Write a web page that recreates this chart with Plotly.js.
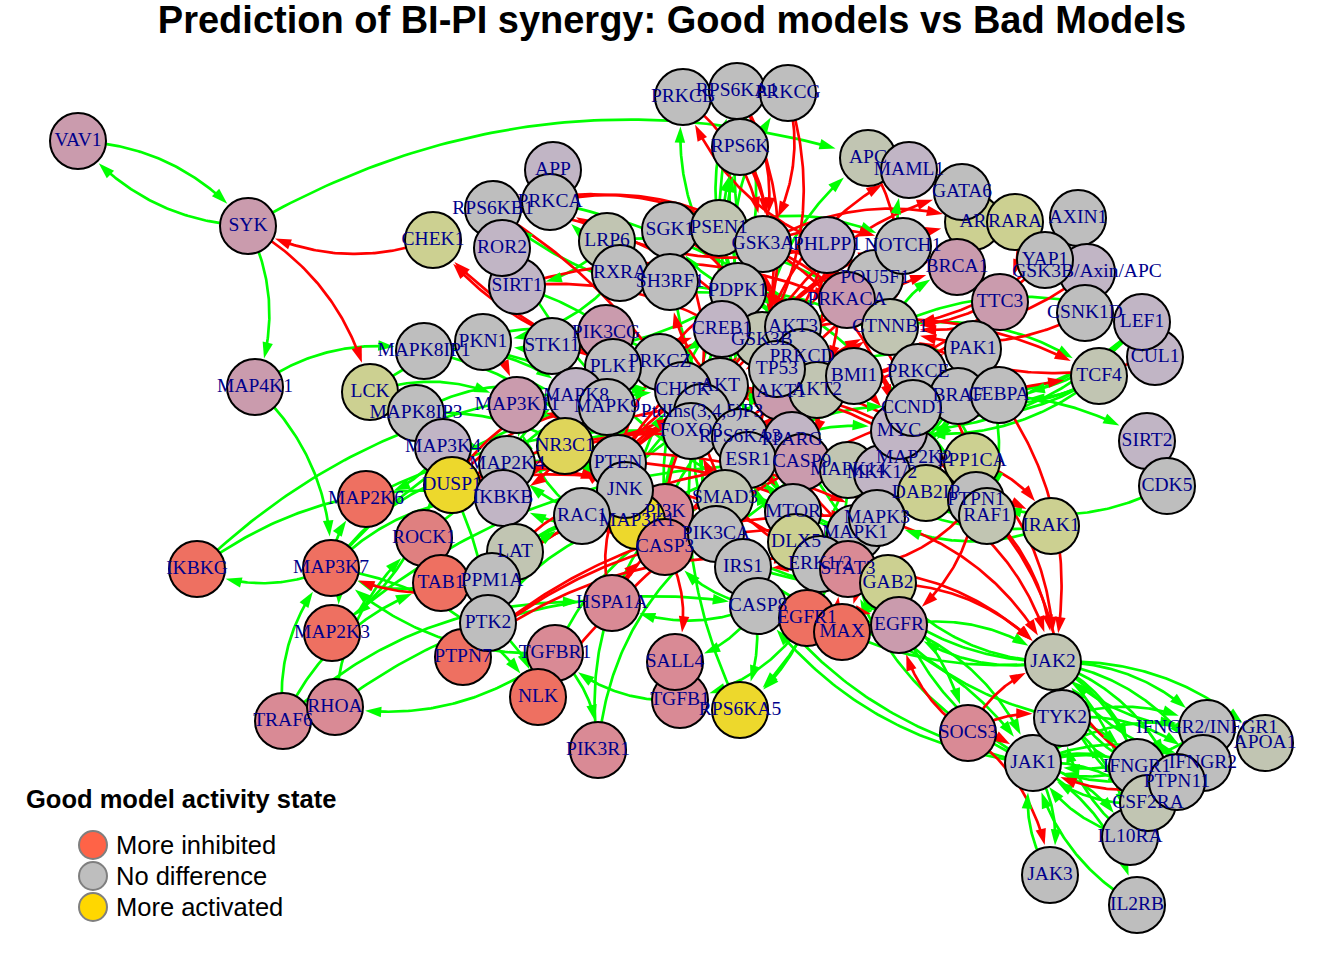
<!DOCTYPE html>
<html>
<head>
<meta charset="utf-8">
<script src="https://cdn.plot.ly/plotly-3.0.1.min.js"></script>
<style>html,body{margin:0;padding:0;background:#fff}#chart{width:1344px;height:960px}</style>
</head>
<body>
<div id="chart"></div>
<script>
// ---------------- DATA ----------------
const nodeNames = ["VAV1","SYK","MAP4K1","LCK","IKBKG","MAP2K6","MAP3K7","MAP2K3","TRAF6","RHOA",
"CHEK1","APP","RPS6KB1","PRKCA","SIRT1","ROR2","LRP6","RXRA","SGK1","PSEN1",
"SH3RF1","PRKCB","RPS6KA1","PRKCG","RPS6K","GSK3A","PHLPP1","APC","MAML1","AR",
"GATA6","RARA","AXIN1","GSK3B/Axin/APC","YAP1","CUL1","CSNK1D","LEF1","TCF4","POU5F1",
"NOTCH1","BRCA1","TTC3","PRKACA","PDPK1","PKN1","MAPK8IP1","STK11","PIK3CG","GSK3B",
"CREB1","AKT3","PRKCD","AKT1","AKT2","TP53","CTNNB1","BMI1","PAK1","PRKCE",
"BRAF","CEBPA","SIRT2","CDK5","MAPK8IP3","PRKCZ","PLK1","AKT","CHUK","PtdIns(3,4,5)P3",
"FOXO3","MAPK8","MAP3K11","MAPK9","MAP3K4","DUSP1","NR3C1","MAP2K4","IKBKB","PTEN",
"PI3K","MAP3K1","JNK","CASP3","RAC1","RPS6KA3","PPARG","ESR1","CASP9","MAPK14",
"MAP2K2","MKK1/2","MYC","CCND1","PPP1CA","DAB2IP","PTPN1","RAF1","IRAK1","SMAD3",
"PIK3CA","MTOR","DLX5","MAPK1","MAPK3","ERK1/2","STAT3","GAB2","IRS1","CASP8",
"EGFR1","EGFR","MAX","ROCK1","LAT","TAB1","PPM1A","PTPN7","PTK2","HSPA1A",
"TGFBR1","NLK","PIK3R1","TGFB1","SALL4","RPS6KA5","SOCS3","JAK2","JAK1","TYK2",
"JAK3","IL2RB","IL10RA","IFNGR1","CSF2RA","IFNGR2/INFGR1","IFNGR2","APOA1","PTPN11"];

// layout coordinates of the network (pixel space of the original figure)
const nodeX = [78,248,255,370,197,366,331,332,283,335,
433,553,493,550,517,502,607,620,670,719,
670,683,737,788,740,763,827,868,909,973,
962,1015,1078,1087,1045,1155,1085,1142,1099,875,
903,957,1000,847,738,483,424,552,606,762,
722,793,802,781,817,777,890,854,973,918,
958,999,1147,1167,416,660,613,720,683,702,
691,576,517,607,443,452,565,507,503,618,
665,637,625,665,582,740,792,748,802,848,
914,882,899,913,972,926,976,987,1051,725,
716,793,796,855,877,820,848,888,743,758,
807,899,842,424,515,441,492,463,488,612,
555,538,598,680,675,740,968,1053,1033,1062,
1050,1137,1130,1137,1148,1207,1203,1265,1177];
const nodeY = [141,226,387,392,569,499,568,633,721,707,
240,170,209,202,286,248,241,273,230,228,
282,97,91,93,147,244,245,158,170,222,
192,222,218,272,260,357,313,322,376,278,
246,267,302,300,291,342,351,346,333,340,
329,327,357,392,390,369,327,376,349,372,
396,395,441,486,413,362,367,386,390,412,
431,396,405,407,447,485,446,464,498,463,
512,521,490,547,516,437,440,460,462,470,
458,473,431,408,461,493,500,516,526,498,
534,512,542,533,518,564,569,583,567,606,
618,625,632,538,552,583,581,657,623,603,
653,697,750,700,662,710,733,662,763,718,
875,905,837,767,803,728,763,743,782];

// activity class of each node in good vs bad models
const nodeState = ["p","p","p","yg","r","r","r","r","pr","pr",
"yg","gp","g","g","gp","gp","gg","g","g","gg",
"g","g","g","g","g","g","gp","gg","gp","yg",
"g","yg","g","gp","g","gp","g","gp","gg","g",
"g","p","p","p","g","g","g","g","p","gg",
"gp","g","g","p","gg","g","gg","g","g","g",
"g","g","gp","g","g","g","g","g","g","g",
"g","gp","p","g","gp","y","y2","g","gp","g",
"pr","y","g","rr","g","g","gp","g","p","gg",
"g","gp","gp","g","yg","yg","g","gg","yg","gg",
"g","g","yg","g","g","g","pr","yg","g","g",
"r","p","r","rr","gg","r","g","r","g","pr",
"pr","r","pr","pr","pr","y","pr","gg","g","g",
"g","g","g","g","gg","g","g","gg","g"];

// activating interactions (source -> target)
const activationEdges = [
["VAV1","SYK"],["SYK","VAV1"],["SYK","MAP4K1"],["SYK","APC"],["MAP4K1","MAP3K7"],["MAP4K1","MAPK8IP1"],
["MAP3K7","IKBKG"],["IKBKG","IKBKB"],["IKBKG","CHUK"],["MAP3K7","MAP2K6"],["MAP3K7","MAP2K3"],["MAP3K7","MAP2K4"],
["MAP3K7","IKBKB"],["MAP3K7","NLK"],["MAP3K7","CHUK"],["TAB1","MAP3K7"],["TRAF6","MAP3K7"],["TRAF6","TAB1"],
["MAP3K4","MAP2K6"],["MAP3K4","MAP2K3"],["MAP3K4","MAP2K4"],["MAP2K6","MAPK14"],["MAP2K3","MAPK14"],
["RHOA","ROCK1"],["RHOA","CASP8"],["TRAF6","HSPA1A"],["LCK","LAT"],["LCK","PIK3CG"],["LCK","MAP3K11"],["LCK","PTK2"],
["LAT","PI3K"],["LAT","PIK3CA"],["LAT","MAP3K1"],["PTK2","NLK"],["PTK2","PI3K"],["PTK2","RAC1"],["ROCK1","PTEN"],
["MAPK8IP1","MAPK8"],["MAPK8IP1","MAPK9"],["MAPK8IP1","JNK"],["MAPK8IP3","JNK"],["MAPK8IP3","MAPK8"],
["MAP3K11","MAP2K4"],["MAP3K1","MAP2K4"],["MAP2K4","JNK"],["MAP2K4","MAPK8"],["MAP2K4","MAPK9"],["MAP2K4","MAPK14"],
["RAC1","MAP3K11"],["RAC1","PAK1"],["RAC1","MAP3K1"],["MAP3K1","MKK1/2"],["MAP3K1","CHUK"],["MAP3K1","IKBKB"],
["PDPK1","PKN1"],["PDPK1","AKT"],["PDPK1","AKT1"],["PDPK1","AKT2"],["PDPK1","AKT3"],["PDPK1","SGK1"],["PDPK1","RPS6K"],
["PDPK1","PRKCZ"],["PDPK1","PRKCD"],["PDPK1","PRKCA"],["PDPK1","PRKCB"],["PDPK1","PRKCG"],["PDPK1","PRKCE"],
["PDPK1","RPS6KA1"],["PDPK1","RPS6KB1"],["PDPK1","RPS6KA3"],["MTOR","RPS6K"],["MTOR","RPS6KB1"],["MTOR","SGK1"],["MTOR","AKT"],
["PtdIns(3,4,5)P3","AKT"],["PtdIns(3,4,5)P3","PDPK1"],["PtdIns(3,4,5)P3","AKT1"],["PtdIns(3,4,5)P3","AKT2"],["PtdIns(3,4,5)P3","AKT3"],
["PIK3CA","PtdIns(3,4,5)P3"],["PIK3CG","PtdIns(3,4,5)P3"],["PI3K","PtdIns(3,4,5)P3"],["PIK3R1","PIK3CA"],["PIK3R1","PI3K"],
["IRS1","PI3K"],["IRS1","PIK3CA"],["GAB2","PI3K"],["GAB2","PIK3CA"],["EGFR","GAB2"],["EGFR","STAT3"],["EGFR1","STAT3"],["EGFR","PIK3CA"],
["AKT","MTOR"],["AKT1","MTOR"],["AKT","CHUK"],["RPS6KA5","CREB1"],["RPS6KA3","CREB1"],["PRKACA","CREB1"],["RPS6KA1","CREB1"],
["MAPK14","RPS6KA5"],["ERK1/2","RPS6KA5"],["ERK1/2","RPS6KA1"],["ERK1/2","RPS6KA3"],["MAPK1","RPS6KA1"],["MAPK3","RPS6KA1"],
["MAPK1","RPS6KA3"],["ERK1/2","MYC"],["MAPK1","MYC"],["MAPK3","MYC"],["ERK1/2","ESR1"],["MAPK1","ESR1"],["MAPK14","TP53"],["JNK","TP53"],
["MKK1/2","ERK1/2"],["MKK1/2","MAPK1"],["MKK1/2","MAPK3"],["MAP2K2","MAPK1"],["MAP2K2","MAPK3"],["MAP2K2","ERK1/2"],
["BRAF","MKK1/2"],["BRAF","MAP2K2"],["RAF1","MKK1/2"],["RAF1","MAP2K2"],["PAK1","RAF1"],["PAK1","MKK1/2"],["PRKCE","RAF1"],["PRKCA","RAF1"],
["CASP8","CASP3"],["CASP9","CASP3"],["CASP8","HSPA1A"],["CASP8","SALL4"],["EGFR1","TGFB1"],["TGFB1","TGFBR1"],["TGFBR1","SMAD3"],
["TGFBR1","PIK3R1"],["TGFBR1","MAP3K7"],["TGFBR1","RHOA"],["IRS1","RPS6KA5"],
["CTNNB1","TCF4"],["CTNNB1","LEF1"],["CTNNB1","MYC"],["CTNNB1","CCND1"],["TCF4","MYC"],["TCF4","CCND1"],["LEF1","MYC"],["LEF1","CCND1"],
["TCF4","CEBPA"],["LEF1","BRAF"],["LEF1","CEBPA"],["TCF4","BRAF"],["CCND1","SIRT2"],["CDK5","PTPN1"],["IRAK1","MAPK3"],["IRAK1","MAPK14"],
["CTNNB1","BRCA1"],["CTNNB1","POU5F1"],["LRP6","CTNNB1"],["NOTCH1","MAML1"],["GSK3B","APC"],["SIRT1","FOXO3"],["RXRA","PKN1"],
["LRP6","SIRT1"],["PSEN1","NOTCH1"],["PIK3CA","AKT"],["PI3K","AKT"],["PI3K","AKT1"],["PIK3CA","PDPK1"],["PI3K","PDPK1"],
["ESR1","CCND1"],["ESR1","MYC"],
["JAK2","IFNGR2/INFGR1"],["IFNGR2/INFGR1","JAK2"],["JAK2","IFNGR2"],["IFNGR2","JAK2"],["JAK2","IFNGR1"],["IFNGR1","JAK2"],
["JAK2","PTPN11"],["JAK2","CSF2RA"],["CSF2RA","JAK2"],["JAK2","APOA1"],["JAK2","IL10RA"],["JAK1","IFNGR1"],["IFNGR1","JAK1"],
["JAK1","IFNGR2"],["IFNGR2","JAK1"],["JAK1","IFNGR2/INFGR1"],["IFNGR2/INFGR1","JAK1"],["JAK1","PTPN11"],["JAK1","CSF2RA"],
["CSF2RA","JAK1"],["JAK1","IL10RA"],["IL10RA","JAK1"],["JAK1","IL2RB"],["IL2RB","JAK1"],["JAK1","JAK3"],["JAK3","JAK1"],
["TYK2","IFNGR2"],["TYK2","IL10RA"],["IL10RA","TYK2"],["TYK2","IFNGR1"],["TYK2","IFNGR2/INFGR1"],["JAK2","JAK1"],
["JAK2","STAT3"],["JAK1","STAT3"],["TYK2","STAT3"],["STAT3","SOCS3"],["STAT3","MYC"],["JAK2","EGFR"],["EGFR","JAK2"],["EGFR","JAK1"],
["JAK2","GAB2"],["JAK1","GAB2"],["JAK2","IRS1"],["JAK1","IRS1"],["JAK1","CASP8"],["EGFR1","JAK1"]
];

// inhibiting interactions (source -| target)
const inhibitionEdges = [
["CHEK1","SYK"],["SYK","LCK"],["AKT1","CHEK1"],["PRKCA","GSK3A"],["PRKCB","GSK3A"],["PRKCG","GSK3A"],["RPS6K","GSK3A"],
["RPS6K","GSK3B"],["RPS6KA1","GSK3B"],["PRKCG","GSK3B"],["AKT","GSK3A"],["AKT","GSK3B"],["AKT1","GSK3B"],["AKT2","GSK3B"],
["AKT3","GSK3B"],["SGK1","GSK3B"],["PRKCZ","GSK3B"],["RPS6KB1","GSK3B"],["PRKACA","GSK3B"],["PRKCD","GSK3B"],
["AKT2","GSK3A"],["AKT3","GSK3A"],["SGK1","GSK3A"],["RPS6KB1","GSK3A"],["RPS6KA1","GSK3A"],
["PHLPP1","AKT"],["PHLPP1","AKT1"],["PHLPP1","AKT2"],["PHLPP1","AKT3"],["PHLPP1","PRKCB"],["PHLPP1","PRKCA"],
["GSK3B","MAML1"],["GSK3B","GATA6"],["GSK3A","NOTCH1"],["GSK3B","CTNNB1"],["GSK3A","CTNNB1"],["GSK3B/Axin/APC","CTNNB1"],
["CSNK1D","CTNNB1"],["AXIN1","CTNNB1"],["APC","CTNNB1"],["CUL1","CTNNB1"],["GSK3B","MYC"],["GSK3B","CCND1"],["GSK3A","MYC"],
["GSK3A","CCND1"],["GSK3B","NOTCH1"],["GSK3B","SMAD3"],["AKT1","BRCA1"],
["AKT","AR"],["TTC3","AKT"],["TTC3","AKT1"],["RARA","TTC3"],["YAP1","CTNNB1"],["PRKACA","RAF1"],["AKT","RAF1"],["AKT1","RAF1"],["AKT2","RAF1"],
["PTPN1","JAK2"],["PTPN11","JAK2"],["SOCS3","JAK2"],["SOCS3","JAK1"],["SOCS3","TYK2"],["SOCS3","JAK3"],["PPP1CA","JAK2"],
["DAB2IP","JAK2"],["PTPN1","STAT3"],["PPP1CA","IRAK1"],["SOCS3","EGFR"],["PTPN1","TYK2"],["PTPN1","EGFR"],["CEBPA","JAK2"],
["PTEN","PtdIns(3,4,5)P3"],["PTEN","AKT"],["PTEN","AKT1"],["PTEN","AKT2"],["PTEN","AKT3"],["PTEN","PDPK1"],
["AKT","FOXO3"],["AKT1","FOXO3"],["AKT2","FOXO3"],["AKT3","FOXO3"],["SGK1","FOXO3"],
["CHUK","FOXO3"],["IKBKB","FOXO3"],["ERK1/2","FOXO3"],["AKT","CASP9"],["AKT1","CASP9"],["AKT2","CASP9"],["AKT","MAP3K11"],
["DUSP1","MAPK14"],["DUSP1","JNK"],["DUSP1","MAPK8"],["DUSP1","MAPK9"],["DUSP1","ERK1/2"],["DUSP1","MAPK1"],["DUSP1","MAPK3"],
["PTPN7","ERK1/2"],["PTPN7","MAPK1"],["PTPN7","MAPK3"],["PPM1A","MAPK14"],["PPM1A","JNK"],["PPM1A","MAP3K7"],["PPM1A","SMAD3"],
["NR3C1","IKBKB"],["NR3C1","JNK"],["NR3C1","MAPK8"],["GSK3B","NR3C1"],["JNK","NR3C1"],["MAPK8","NR3C1"],["NR3C1","CREB1"],["HSPA1A","JNK"],
["HSPA1A","CASP3"],["HSPA1A","CASP9"],["CASP3","SALL4"],["SIRT1","TP53"],["SIRT1","CTNNB1"],["AKT","SH3RF1"],["MAPK1","PPARG"],
["ERK1/2","PPARG"],["PPARG","CTNNB1"],["RPS6KB1","IRS1"],["MAPK1","IRS1"],["MTOR","IRS1"],["STK11","MTOR"],["JNK","IRS1"],["GSK3B","CREB1"],
["NLK","TCF4"],["GSK3B","TCF4"],["PKN1","MAP3K11"],["PLK1","FOXO3"],["TP53","BMI1"],["BMI1","TP53"],["CASP3","PAK1"],["CASP3","AKT"],
["PRKACA","PHLPP1"],["POU5F1","BRCA1"],["GSK3A","AR"],["PRKCZ","CHEK1"],["ESR1","CTNNB1"],["CASP9","AKT"],["MAPK14","MAX"],
["MAX","STAT3"],["EGFR1","EGFR"],["STAT3","JAK2"],["GAB2","JAK2"],["MAPK3","JAK2"],["PTPN11","JAK1"],["PTPN1","IRAK1"]
];

const legendLabels = ["More inhibited","No difference","More activated"];
const titleText = "Prediction of BI-PI synergy: Good models vs Bad Models";
const legendTitle = "Good model activity state";

// ---------------- STYLE ----------------
const palette = {g:"#BEBEBE", gg:"#C1C5B2", gp:"#C1B5C5", p:"#CA9BAD", pr:"#D98A95", rr:"#DF8080",
                 r:"#EE7061", yg:"#CCD091", y:"#EDD82C", y2:"#DFD55A"};
const legendColors = ["#FF6347","#BEBEBE","#FFD700"];
const NODE_R = 29, CURV = 0.22;
const GREEN = "#00FF00", RED = "#FF0000";

const idx = {};
nodeNames.forEach((n,i)=>{ idx[n]=i; });

function buildEdges(list){
  const lx=[], ly=[], axs=[], ays=[], ang=[];
  list.forEach(([a,b])=>{
    if(!(a in idx) || !(b in idx)) return;
    const x0=nodeX[idx[a]], y0=nodeY[idx[a]], x1=nodeX[idx[b]], y1=nodeY[idx[b]];
    const dx=x1-x0, dy=y1-y0;
    const cx=(x0+x1)/2 + dy*CURV, cy=(y0+y1)/2 - dx*CURV;
    const N=80;
    let tipT=1;
    for(let k=N;k>=0;k--){
      const t=k/N;
      const px=(1-t)*(1-t)*x0+2*(1-t)*t*cx+t*t*x1;
      const py=(1-t)*(1-t)*y0+2*(1-t)*t*cy+t*t*y1;
      if(Math.hypot(px-x1,py-y1)>=NODE_R){ tipT=t; break; }
    }
    const tx=(1-tipT)*(1-tipT)*x0+2*(1-tipT)*tipT*cx+tipT*tipT*x1;
    const ty=(1-tipT)*(1-tipT)*y0+2*(1-tipT)*tipT*cy+tipT*tipT*y1;
    const ddx=2*(1-tipT)*(cx-x0)+2*tipT*(x1-cx);
    const ddy=2*(1-tipT)*(cy-y0)+2*tipT*(y1-cy);
    const dl=Math.hypot(ddx,ddy)||1;
    const ex=tx-ddx/dl*8, ey=ty-ddy/dl*8;
    for(let k=0;k<=N;k++){
      const t=k/N*tipT;
      const px=(1-t)*(1-t)*x0+2*(1-t)*t*cx+t*t*x1;
      const py=(1-t)*(1-t)*y0+2*(1-t)*t*cy+t*t*y1;
      if(Math.hypot(px-tx,py-ty)<8) break;
      lx.push(px); ly.push(py);
    }
    lx.push(ex); ly.push(ey);
    lx.push(null); ly.push(null);
    axs.push(tx); ays.push(ty);
    ang.push(Math.atan2(ddx,-ddy)*180/Math.PI);
  });
  return {lx,ly,axs,ays,ang};
}

const G = buildEdges(activationEdges);
const Rd = buildEdges(inhibitionEdges);

const traces = [
  {x:G.lx, y:G.ly, mode:"lines", type:"scatter", line:{color:GREEN,width:2.7}, hoverinfo:"skip"},
  {x:Rd.lx, y:Rd.ly, mode:"lines", type:"scatter", line:{color:RED,width:2.7}, hoverinfo:"skip"},
  {x:G.axs, y:G.ays, mode:"markers", type:"scatter", hoverinfo:"skip",
   marker:{symbol:"arrow", size:17, angle:G.ang, color:GREEN, line:{width:0}}},
  {x:Rd.axs, y:Rd.ays, mode:"markers", type:"scatter", hoverinfo:"skip",
   marker:{symbol:"arrow", size:17, angle:Rd.ang, color:RED, line:{width:0}}},
  {x:nodeX, y:nodeY, text:nodeNames, mode:"markers+text", type:"scatter", textposition:"middle center",
   hoverinfo:"text",
   marker:{size:56, color:nodeState.map(s=>palette[s]), line:{color:"#000",width:2}},
   textfont:{family:"Liberation Serif, Times New Roman, serif", size:19.5, color:"#00008B"}}
];

const LEG = {x:24, titleY:799, cx:93, y0:845, dy:31, r:14, tx:114};
const shapes = legendLabels.map((l,i)=>({type:"circle", xref:"x", yref:"y",
  x0:LEG.cx-LEG.r, x1:LEG.cx+LEG.r, y0:LEG.y0+i*LEG.dy-LEG.r, y1:LEG.y0+i*LEG.dy+LEG.r,
  fillcolor:legendColors[i], line:{color:"#7F7F7F",width:2}}));
const annotations = [{xref:"x",yref:"y",x:LEG.x,y:LEG.titleY,xanchor:"left",yanchor:"middle",showarrow:false,
  text:"<b>"+legendTitle+"</b>", font:{family:"Liberation Sans, Arial, sans-serif",size:25.5,color:"#000"}}]
  .concat(legendLabels.map((l,i)=>({xref:"x",yref:"y",x:LEG.tx,y:LEG.y0+i*LEG.dy,xanchor:"left",yanchor:"middle",
  showarrow:false,text:l,font:{family:"Liberation Sans, Arial, sans-serif",size:25.5,color:"#000"}})));

const layout = {
  width:1344, height:960, margin:{l:0,r:0,t:0,b:0},
  paper_bgcolor:"#fff", plot_bgcolor:"#fff", showlegend:false,
  xaxis:{range:[0,1344], visible:false, fixedrange:true},
  yaxis:{range:[960,0], visible:false, fixedrange:true},
  title:{text:"<b>"+titleText+"</b>", x:0.5, xanchor:"center", xref:"paper", y:1-20/960, yanchor:"middle", yref:"container",
         font:{family:"Liberation Sans, Arial, sans-serif", size:38, color:"#000"}},
  shapes:shapes, annotations:annotations
};

Plotly.newPlot("chart", traces, layout, {displayModeBar:false, staticPlot:true});
</script>
</body>
</html>
